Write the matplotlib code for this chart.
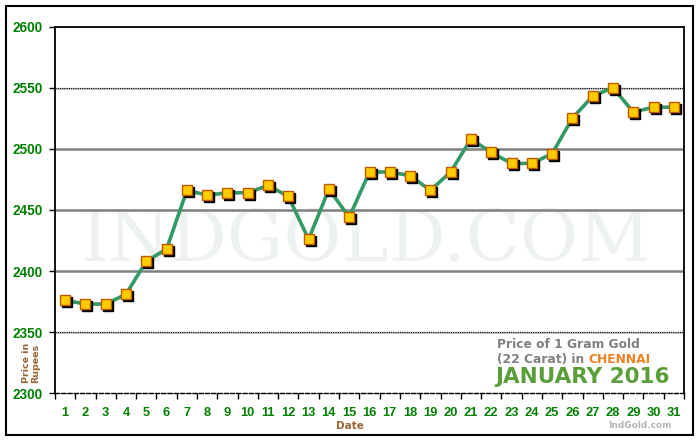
import matplotlib
matplotlib.use("Agg")
import matplotlib.pyplot as plt
import matplotlib.transforms as mtransforms
from matplotlib.patches import Rectangle
import numpy as np

days = list(range(1, 32))
prices = [2376, 2373, 2373, 2381, 2408, 2418, 2466, 2462, 2464, 2464, 2470,
          2461, 2426, 2467, 2444, 2481, 2481, 2478, 2466, 2481, 2508, 2497,
          2488, 2488, 2496, 2525, 2543, 2550, 2530, 2534, 2534]
y_ticks = [2300, 2350, 2400, 2450, 2500, 2550, 2600]

sansb = ['Liberation Sans', 'DejaVu Sans']

fig = plt.figure(figsize=(7, 4.4), dpi=100)
fig.patch.set_facecolor('white')
fig.patches.append(Rectangle((6/700, 5/440), 687/700, 429/440, transform=fig.transFigure,
                             fill=False, edgecolor='black', linewidth=1.5, zorder=0))

ax = fig.add_axes([55/700, (440-393.3)/440, 629/700, 366.8/440])
ax.set_xlim(0.5, 31.5)
ax.set_ylim(2300, 2600)

# gridlines
for v in y_ticks[1:-1]:
    if v in (2350, 2550):
        tr = mtransforms.offset_copy(ax.get_yaxis_transform(), fig=fig, y=-1, units='dots')
        ax.plot([0, 1], [v, v], color='#c8c8c8', lw=1.6, zorder=1, transform=tr)
        ax.axhline(v, color='black', lw=0.8, ls=(0, (1, 1)), zorder=1.1)
    else:
        ax.axhline(v, color='#808080', lw=1.8, zorder=1)

# watermark
ax.text(15.8, 2424, 'INDGOLD.COM', fontsize=51, family='DejaVu Serif', color='#eef2ee',
        ha='center', va='center', zorder=0.5)

# line
ax.plot(days, prices, color='#339966', lw=2.6, zorder=2)
shadow_tr = mtransforms.offset_copy(ax.transData, fig=fig, x=2, y=-2, units='dots')
ax.plot(days, prices, ls='none', marker='s', ms=7.5, color='black', mec='black',
        transform=shadow_tr, zorder=3)
ax.plot(days, prices, ls='none', marker='s', ms=7.5, mfc='#ffcc00', mec='#c05a00',
        mew=1.0, zorder=4)

# spines
for s in ['left', 'top', 'right']:
    ax.spines[s].set_color('black')
    ax.spines[s].set_linewidth(1.3)
ax.spines['bottom'].set_linestyle((0, (3, 1.5)))
ax.spines['bottom'].set_linewidth(1.0)

ax.set_yticks(y_ticks)
ax.set_yticklabels([str(v) for v in y_ticks])
ax.set_xticks(days)
ax.set_xticklabels([str(d) for d in days])
ax.set_xticks(np.arange(0.5, 32, 1), minor=True)
ax.tick_params(axis='x', which='major', length=0, pad=10, labelsize=9.3, labelcolor='#008000')
ax.tick_params(axis='x', which='minor', length=4, width=1, direction='out')
ax.tick_params(axis='y', length=4, width=1, pad=5, labelsize=9.8, labelcolor='#008000')
for lab in ax.get_xticklabels() + ax.get_yticklabels():
    lab.set_family(sansb)
    lab.set_fontweight('bold')

fig.text(350/700, (440-425.5)/440, 'Date', ha='center', va='center', fontsize=7.5,
         fontweight='bold', color='#996633', family='DejaVu Sans')
fig.text(31/700, (440-363)/440, 'Price in\nRupees', ha='center', va='center', rotation=90,
         fontsize=6.8, fontweight='bold', color='#996633', family='DejaVu Sans', linespacing=1.05)

# info box text
fig.text(497/700, (440-344)/440, 'Price of 1 Gram Gold', ha='left', va='center', fontsize=8.8,
         fontweight='bold', color='#808080', family='DejaVu Sans')
t1 = fig.text(497/700, (440-359.5)/440, '(22 Carat) in ', ha='left', va='center', fontsize=8.8,
              fontweight='bold', color='#808080', family='DejaVu Sans')
fig.canvas.draw()
bb = t1.get_window_extent()
fig.text(bb.x1 / fig.bbox.width, (440-359.5)/440, 'CHENNAI', ha='left', va='center', fontsize=8.8,
         fontweight='bold', color='#f08020', family='DejaVu Sans')
fig.text(582/700, (440-377)/440, 'JANUARY 2016', ha='center', va='center', fontsize=15.5,
         fontweight='bold', color='#5a9e3a', family='DejaVu Sans')
fig.text(672/700, (440-425)/440, 'IndGold.com', ha='right', va='center', fontsize=6.5,
         fontweight='bold', color='#b4b4b4', family='DejaVu Sans')

fig.savefig('out.png', dpi=100, facecolor='white')
